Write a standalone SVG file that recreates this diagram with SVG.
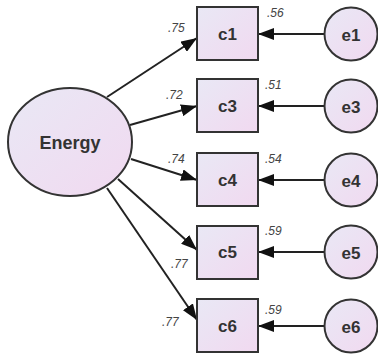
<svg xmlns="http://www.w3.org/2000/svg" width="378" height="354" viewBox="0 0 378 354">
<defs>
<linearGradient id="fill" x1="0" y1="0" x2="1" y2="1">
<stop offset="0" stop-color="#e9e8f5"/>
<stop offset="1" stop-color="#f1d9f0"/>
</linearGradient>
<marker id="ah" viewBox="0 0 16 12" refX="16" refY="6" markerWidth="16" markerHeight="12" markerUnits="userSpaceOnUse" orient="auto">
<path d="M0,0 L16,6 L0,12 Z" fill="#111"/>
</marker>
<style>
.shape{fill:url(#fill);stroke:#333;stroke-width:2}
.lbl{font-family:"Liberation Sans",Arial,sans-serif;font-weight:bold;fill:#333;text-anchor:middle;dominant-baseline:central}
.num{font-family:"Liberation Sans",Arial,sans-serif;font-size:12px;fill:#444;font-style:italic}
.conn{stroke:#222;stroke-width:2;fill:none;marker-end:url(#ah)}
</style>
</defs>
<rect width="378" height="354" fill="#fff"/>
<g id="connectors">
<line class="conn" x1="107" y1="97" x2="197" y2="38"/>
<line class="conn" x1="130" y1="125" x2="197" y2="106"/>
<line class="conn" x1="131" y1="159" x2="197" y2="180"/>
<line class="conn" x1="118" y1="179" x2="197" y2="250"/>
<line class="conn" x1="107" y1="188" x2="197" y2="320"/>
<line class="conn" x1="325" y1="34" x2="258" y2="34"/>
<line class="conn" x1="325" y1="106" x2="258" y2="106"/>
<line class="conn" x1="325" y1="180" x2="258" y2="180"/>
<line class="conn" x1="325" y1="252" x2="258" y2="252"/>
<line class="conn" x1="325" y1="326" x2="258" y2="326"/>
</g>
<g id="Energy">
<ellipse class="shape" cx="70" cy="142" rx="62" ry="54"/>
<text class="lbl" x="70" y="143" font-size="18">Energy</text>
</g>
<g id="c1"><rect class="shape" x="197" y="7" width="61" height="53"/><text class="lbl" x="227.5" y="34" font-size="17">c1</text></g>
<g id="c3"><rect class="shape" x="197" y="79" width="61" height="53"/><text class="lbl" x="227.5" y="106" font-size="17">c3</text></g>
<g id="c4"><rect class="shape" x="197" y="153" width="61" height="53"/><text class="lbl" x="227.5" y="180" font-size="17">c4</text></g>
<g id="c5"><rect class="shape" x="197" y="226" width="61" height="53"/><text class="lbl" x="227.5" y="252" font-size="17">c5</text></g>
<g id="c6"><rect class="shape" x="197" y="299" width="61" height="53"/><text class="lbl" x="227.5" y="326" font-size="17">c6</text></g>
<g id="e1"><circle class="shape" cx="351" cy="34" r="26.5"/><text class="lbl" x="351" y="35" font-size="17">e1</text></g>
<g id="e3"><circle class="shape" cx="351" cy="106" r="26.5"/><text class="lbl" x="351" y="107" font-size="17">e3</text></g>
<g id="e4"><circle class="shape" cx="351" cy="180" r="26.5"/><text class="lbl" x="351" y="181" font-size="17">e4</text></g>
<g id="e5"><circle class="shape" cx="351" cy="252" r="26.5"/><text class="lbl" x="351" y="253" font-size="17">e5</text></g>
<g id="e6"><circle class="shape" cx="351" cy="326" r="26.5"/><text class="lbl" x="351" y="327" font-size="17">e6</text></g>
<g id="labels">
<text class="num" x="168" y="32">.75</text>
<text class="num" x="166" y="99">.72</text>
<text class="num" x="168" y="163">.74</text>
<text class="num" x="171" y="268">.77</text>
<text class="num" x="162" y="326">.77</text>
<text class="num" x="267" y="17">.56</text>
<text class="num" x="265" y="89">.51</text>
<text class="num" x="265" y="163">.54</text>
<text class="num" x="265" y="235">.59</text>
<text class="num" x="265" y="314">.59</text>
</g>
</svg>
